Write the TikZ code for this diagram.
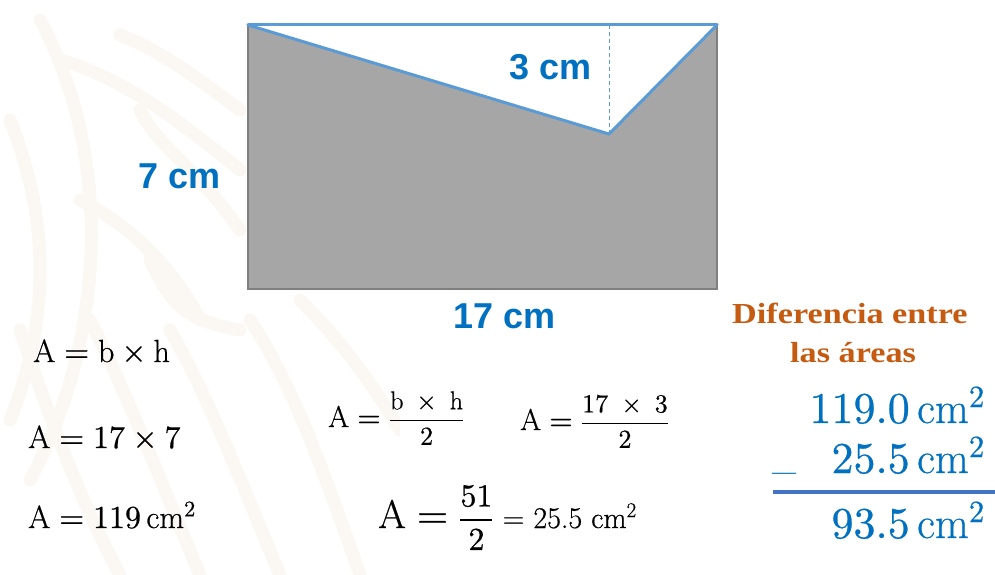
\documentclass[tikz,border=0pt]{standalone}
\usepackage{amsmath}
\usepackage{fontspec}
\usepackage{unicode-math}
\setmainfont{Latin Modern Roman}[FakeBold=0.6]
\setmathfont{Latin Modern Math}[FakeBold=0.6]
\newfontfamily\lblfont{Liberation Sans}
\newfontfamily\orfont[FakeStretch=1.18]{Liberation Serif}
\newcommand\setfs[1]{\fontsize{#1}{#1}\selectfont}
\definecolor{greyfill}{HTML}{A6A6A6}
\definecolor{rimgray}{HTML}{7F7F7F}
\definecolor{edgeblue}{HTML}{5B9BD5}
\definecolor{lblblue}{HTML}{0070C0}
\definecolor{orangetxt}{HTML}{C55A11}
\definecolor{sumblue}{HTML}{4472C4}
\definecolor{wmark}{HTML}{FBF8F3}
\tikzset{
  dimlabel/.style={font=\lblfont\bfseries\setfs{36}, text=lblblue, inner sep=0pt},
  formula/.style={inner sep=0pt, anchor=base west},
  bignum/.style={inner sep=0pt, anchor=base east, text=lblblue, font=\setfs{44}},
  orlabel/.style={inner sep=0pt, anchor=base west, text=orangetxt, font=\orfont\bfseries\setfs{29}},
  edge/.style={draw=edgeblue, line width=3pt, line join=round, line cap=round},
  band/.style={draw=wmark, line width=13pt, line cap=round}
}
\begin{document}
\begin{tikzpicture}[x=1pt,y=-1pt]
\useasboundingbox (0,0) rectangle (995,575);
% faint watermark
\begin{scope}
\clip (0,10) rectangle (400,575);
\draw[band] (40,20) .. controls (110,150) and (110,330) .. (30,480);
\draw[band] (10,120) .. controls (50,220) and (50,320) .. (10,420);
\draw[band] (120,35) .. controls (160,50) and (200,80) .. (240,110);
\draw[band] (60,60) .. controls (130,80) and (190,130) .. (240,170);
\draw[band] (140,110) .. controls (160,150) and (190,160) .. (240,230);
\draw[band] (80,200) .. controls (140,230) and (180,280) .. (200,320);
\draw[band] (150,260) .. controls (170,300) and (180,320) .. (240,330);
\draw[band] (20,330) .. controls (50,420) and (80,500) .. (120,575);
\draw[band] (90,320) .. controls (130,400) and (160,480) .. (200,575);
\draw[band] (170,330) .. controls (210,400) and (240,480) .. (280,575);
\draw[band] (250,320) .. controls (290,380) and (320,460) .. (360,575);
\draw[band] (300,300) .. controls (340,340) and (370,380) .. (400,430);
\end{scope}
% rectangle
\coordinate (tl) at (248,25);
\coordinate (tr) at (717,25);
\coordinate (br) at (717,289);
\coordinate (bl) at (248,289);
\coordinate (apex) at (609,134);
\coordinate (foot) at (609,25);
\fill[greyfill] (tl) rectangle (br);
\draw[rimgray, line width=2pt] (tl) rectangle (br);
\fill[white] (tl) -- (tr) -- (apex) -- cycle;
\draw[edgeblue, line width=1pt, dash pattern=on 4pt off 3pt] (foot) -- (apex);
\draw[edge] (tl) -- (tr);
\draw[edge] (tl) -- (apex) -- (tr);
% dimension labels
\node[dimlabel, anchor=base west] (h3) at (509,80) {3 cm};
\node[dimlabel, anchor=base west] (h7) at (138,188) {7 cm};
\node[dimlabel, anchor=base west] (b17) at (453,328) {17 cm};
% left formulas
\node[formula, font=\setfs{32}] (fa) at (33,362) {$\mathrm{A}=\mathrm{b}\times\mathrm{h}$};
\node[formula, font=\setfs{32}] (fb) at (28,448) {$\mathrm{A}=17\times7$};
\node[formula, font=\setfs{32}] (fc) at (28,528) {$\mathrm{A}=119\,\mathrm{cm}^{2}$};
% middle formulas
\node[formula] (ta) at (328,427) {{\setfs{30}$\mathrm{A}={}$}{\setfs{26}$\dfrac{\mathrm{b}\;\times\;\mathrm{h}}{2}$}};
\node[formula] (tb) at (520,430) {{\setfs{30}$\mathrm{A}={}$}{\setfs{26}$\dfrac{17\;\times\;3}{2}$}};
\node[formula] (tc) at (378,528) {{\setfs{40}$\mathrm{A}={}$}{\setfs{32}$\dfrac{51}{2}$}{\setfs{30} = 25.5 cm\textsuperscript{2}}};
% difference
\node[orlabel] (d1) at (732,323) {Diferencia entre};
\node[orlabel] (d2) at (790,362) {las áreas};
\node[bignum] (n1) at (985,423) {$119.0\,\mathrm{cm}^{2}$};
\node[bignum] (n2) at (985,473) {$25.5\,\mathrm{cm}^{2}$};
\node[inner sep=0pt, anchor=base west, text=lblblue, font=\setfs{34}] (minus) at (772,469) {\_};
\draw[sumblue, line width=4pt] (773,492) -- (995,492);
\node[bignum] (n3) at (985,538) {$93.5\,\mathrm{cm}^{2}$};
\end{tikzpicture}
\end{document}
